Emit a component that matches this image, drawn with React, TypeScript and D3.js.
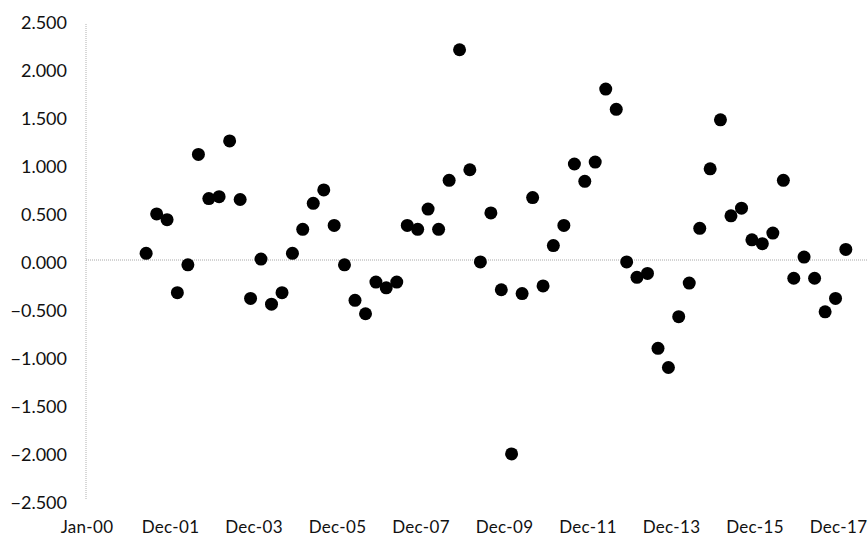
import React from "react";
import * as d3 from "d3";

// Quarterly observation months (first of month)
const periods: string[] = [
  "2001-06", "2001-09", "2001-12",
  "2002-03", "2002-06", "2002-09", "2002-12",
  "2003-03", "2003-06", "2003-09", "2003-12",
  "2004-03", "2004-06", "2004-09", "2004-12",
  "2005-03", "2005-06", "2005-09", "2005-12",
  "2006-03", "2006-06", "2006-09", "2006-12",
  "2007-03", "2007-06", "2007-09", "2007-12",
  "2008-03", "2008-06", "2008-09", "2008-12",
  "2009-03", "2009-06", "2009-09", "2009-12",
  "2010-03", "2010-06", "2010-09", "2010-12",
  "2011-03", "2011-06", "2011-09", "2011-12",
  "2012-03", "2012-06", "2012-09", "2012-12",
  "2013-03", "2013-06", "2013-09", "2013-12",
  "2014-03", "2014-06", "2014-09", "2014-12",
  "2015-03", "2015-06", "2015-09", "2015-12",
  "2016-03", "2016-06", "2016-09", "2016-12",
  "2017-03", "2017-06", "2017-09", "2017-12",
  "2018-03",
];

const values: number[] = [
  0.07, 0.48, 0.42,
  -0.34, -0.05, 1.10, 0.64,
  0.66, 1.24, 0.63, -0.40,
  0.01, -0.46, -0.34, 0.07,
  0.32, 0.59, 0.73, 0.36,
  -0.05, -0.42, -0.56, -0.23,
  -0.29, -0.23, 0.36, 0.32,
  0.53, 0.32, 0.83, 2.19,
  0.94, -0.02, 0.49, -0.31,
  -2.02, -0.35, 0.65, -0.27,
  0.15, 0.36, 1.00, 0.82,
  1.02, 1.78, 1.57, -0.02,
  -0.18, -0.14, -0.92, -1.12,
  -0.59, -0.24, 0.33, 0.95,
  1.46, 0.46, 0.54, 0.21,
  0.17, 0.28, 0.83, -0.19,
  0.03, -0.19, -0.54, -0.40,
  0.11,
];

const yTicks: number[] = [2.5, 2.0, 1.5, 1.0, 0.5, 0, -0.5, -1.0, -1.5, -2.0, -2.5];
const xAxisStart = "2000-01-01";
const xTickStepDays = 730;
const xTickCount = 10;

const W = 868;
const H = 538;

export default function App() {
  const parseMonth = d3.timeParse("%Y-%m");
  const parseDay = d3.timeParse("%Y-%m-%d");
  const start = parseDay(xAxisStart) as Date;
  const end = d3.timeDay.offset(start, xTickStepDays * (xTickCount - 1));
  const xTicks = d3.range(xTickCount).map((k) => d3.timeDay.offset(start, xTickStepDays * k));

  const x = d3.scaleTime().domain([start, end]).range([87, 838.5]);
  const y = d3.scaleLinear().domain([-2.5, 2.5]).range([500, 20]);
  const fmtX = d3.timeFormat("%b-%y");
  const fmtY = d3.format(".3f");

  const pts = periods.map((p, i) => ({ d: parseMonth(p) as Date, v: values[i] }));
  const font = "Lato, 'Open Sans', sans-serif";

  return (
    <svg
      width={W}
      height={H}
      style={{ position: "absolute", left: 0, top: 0, background: "#fff" }}
    >
      {/* y axis (dotted) */}
      <line
        x1={86}
        x2={86}
        y1={y(2.5) + 4}
        y2={y(-2.5)}
        stroke="#b0b0b0"
        strokeWidth={1}
        strokeDasharray="1,1"
      />
      {/* zero line */}
      <line
        x1={86}
        x2={W}
        y1={y(0)}
        y2={y(0)}
        stroke="#a8a8a8"
        strokeWidth={1}
        strokeDasharray="1,1"
      />
      {yTicks.map((t) => (
        <text
          key={t}
          x={67}
          y={y(t) + 2}
          textAnchor="end"
          dominantBaseline="central"
          fontFamily={font}
          fontSize={18}
          fill="#111"
        >
          {fmtY(t)}
        </text>
      ))}
      {xTicks.map((t, i) => (
        <text
          key={i}
          x={x(t)}
          y={533}
          textAnchor="middle"
          fontFamily={font}
          fontSize={17}
          fill="#111"
          letterSpacing={0.3}
        >
          {fmtX(t)}
        </text>
      ))}
      {pts.map((p, i) => (
        <circle key={i} cx={x(p.d)} cy={y(p.v)} r={6.5} fill="#000" />
      ))}
    </svg>
  );
}
